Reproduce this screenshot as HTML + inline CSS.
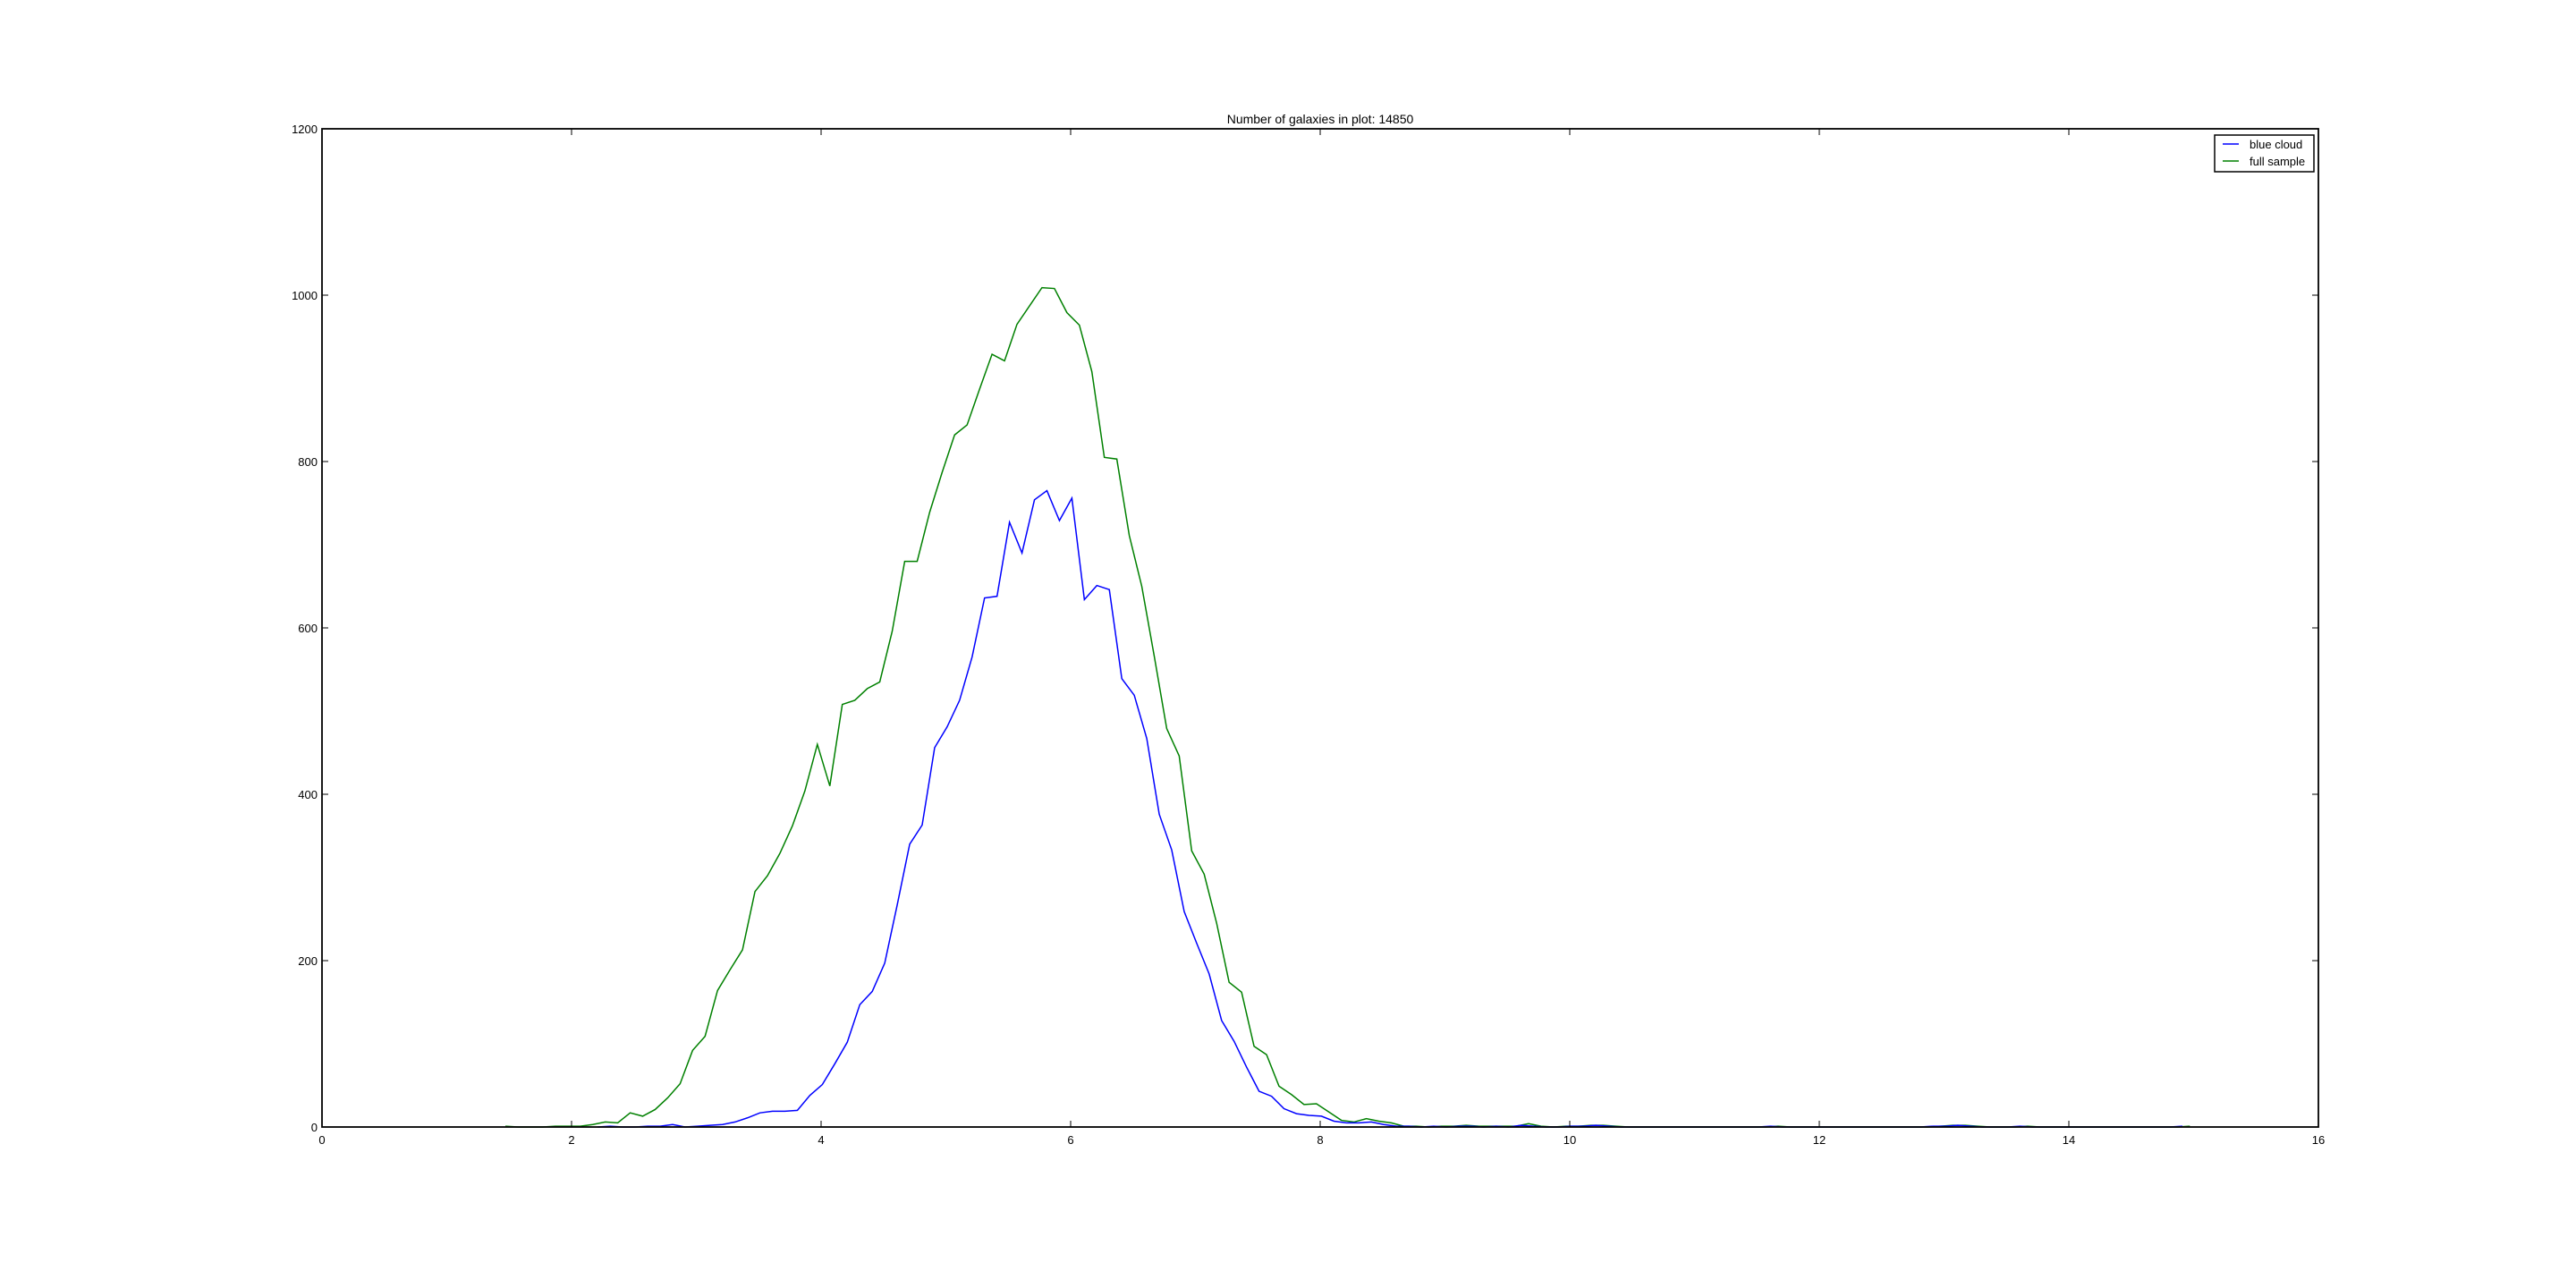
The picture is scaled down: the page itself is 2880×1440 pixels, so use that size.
<!DOCTYPE html>
<html><head><meta charset="utf-8"><style>
html,body{margin:0;padding:0;background:#fff;}
svg{display:block;font-family:"Liberation Sans","DejaVu Sans",sans-serif;}
</style></head><body>
<svg id="chart" width="2880" height="1440" viewBox="0 0 2880 1440"></svg>
<script>
const greenX0 = 1.47, blueX0 = 1.51, binStep = 0.1;
const greenValues = [1,0,0,0,1,1,1,3,6,5,17,13,21,35,52,92,109,164,189,213,283,302,329,362,404,460,410,508,513,527,535,596,680,680,739,787,832,844,887,929,921,965,987,1009,1008,979,964,908,805,803,711,650,566,479,446,332,304,245,174,162,97,87,49,39,27,28,18,8,6,10,7,5,1,1,0,1,1,2,1,1,1,1,4,1,0,1,1,2,2,1,0,0,0,0,0,0,0,0,0,0,0,0,1,0,0,0,0,0,0,0,0,0,0,0,0,1,2,2,1,0,0,0,1,0,0,0,0,0,0,0,0,0,0,0,0,1];
const blueValues = [null,null,null,null,null,null,null,0,1,0,0,1,1,3,0,1,2,3,6,11,17,19,19,20,38,51,76,102,147,163,197,267,340,363,456,481,513,565,636,638,727,690,754,765,729,756,634,651,646,539,519,467,376,333,259,221,184,128,103,72,43,37,22,16,14,13,7,5,5,6,3,1,1,0,1,0,1,1,0,1,0,2,1,0,0,1,1,2,1,0,0,0,0,0,0,0,0,0,0,0,0,1,0,0,0,0,0,0,0,0,0,0,0,0,1,1,2,1,0,0,0,1,0,0,0,0,0,0,0,0,0,0,0,0,1];
const xTicks = [0,2,4,6,8,10,12,14,16];
const yTicks = [0,200,400,600,800,1000,1200];
const seriesNames = ["blue cloud","full sample"];
const titleText = "Number of galaxies in plot: 14850";

const L=360,R=2592,T=144,B=1260;
const xs = v => L + (v-0)/(16-0)*(R-L);
const ys = v => B - v/1200*(B-T);
const NS="http://www.w3.org/2000/svg";
const svg=document.getElementById('chart');
function mk(tag,attrs,parent){const e=document.createElementNS(NS,tag);for(const k in attrs)e.setAttribute(k,attrs[k]);(parent||svg).appendChild(e);return e;}

function linePath(x0,vals){let d="";let started=false;vals.forEach((v,i)=>{if(v===null)return;const x=xs(x0+binStep*i),y=ys(v);d+=(started?"L":"M")+x.toFixed(2)+" "+y.toFixed(2);started=true;});return d;}

const g=mk('path',{d:linePath(greenX0,greenValues),fill:'none',stroke:'#008000','stroke-width':1.5});


const b=mk('path',{d:linePath(blueX0,blueValues),fill:'none',stroke:'#0000ff','stroke-width':1.5});



const frame=mk('rect',{x:L,y:T,width:R-L,height:B-T,fill:'none',stroke:'#000','stroke-width':1.8});



xTicks.forEach(t=>{
  const x=xs(t);
  mk('line',{x1:x,y1:B,x2:x,y2:B-7,stroke:'#000','stroke-width':1});
  mk('line',{x1:x,y1:T,x2:x,y2:T+7,stroke:'#000','stroke-width':1});
  const tx=mk('text',{x:x,y:B+19,'font-size':13,'text-anchor':'middle',fill:'#000'});
  tx.textContent=t;
  
  
});
yTicks.forEach(t=>{
  const y=ys(t);
  mk('line',{x1:L,y1:y,x2:L+7,y2:y,stroke:'#000','stroke-width':1});
  mk('line',{x1:R,y1:y,x2:R-7,y2:y,stroke:'#000','stroke-width':1});
  const tx=mk('text',{x:L-5,y:y+5,'font-size':13,'text-anchor':'end',fill:'#000'});
  tx.textContent=t;
  
  
});

const title=mk('text',{x:(L+R)/2,y:138,'font-size':14,'text-anchor':'middle',fill:'#000'});
title.textContent=titleText;



const lg=mk('g',{});


mk('rect',{x:2476,y:151,width:111,height:41,fill:'#fff',stroke:'#000','stroke-width':1.5},lg);
const colors=['#0000ff','#008000'];
seriesNames.forEach((n,i)=>{
  const y=161+i*19;
  const ln=mk('line',{x1:2485,y1:y,x2:2503,y2:y,stroke:colors[i],'stroke-width':1.5},lg);
  
  
  const tx=mk('text',{x:2515,y:y+5,'font-size':13,fill:'#000'},lg);
  tx.textContent=n;
  
  
});
</script>
</body></html>
